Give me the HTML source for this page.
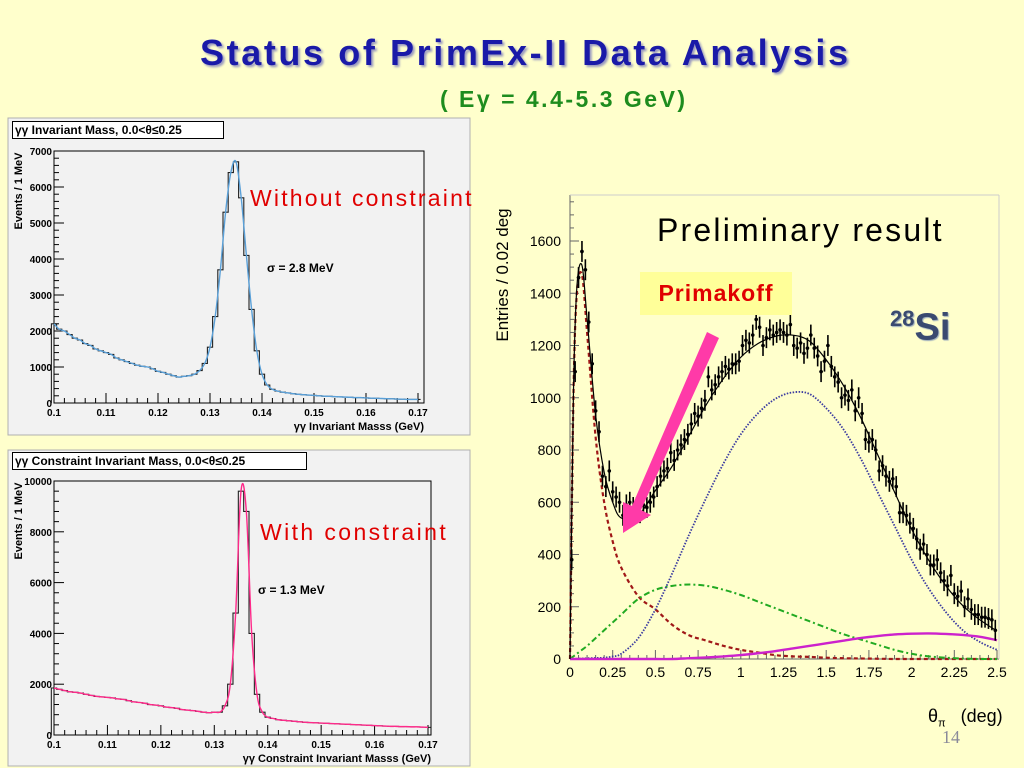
<!DOCTYPE html>
<html><head><meta charset="utf-8">
<style>
html,body{margin:0;padding:0;}
body{width:1024px;height:768px;background:#FFFFCC;position:relative;overflow:hidden;font-family:"Liberation Sans",sans-serif;}
.abs{position:absolute;white-space:nowrap;}
</style></head>
<body>
<div class="abs" style="left:200px;top:32px;font-size:36px;letter-spacing:2.6px;font-weight:bold;color:#1a1aa8;text-shadow:2px 2px 2px #9a9ac0;">Status of PrimEx-II Data Analysis</div>
<div class="abs" style="left:440px;top:86px;font-size:23px;letter-spacing:2.5px;font-weight:bold;color:#1e8c1e;">( E&gamma; = 4.4-5.3 GeV)</div>
<div class="abs" style="left:942px;top:727px;font-size:18px;color:#8a8a9a;font-family:'Liberation Serif',serif;">14</div>

<svg id="svg" width="1024" height="768" style="position:absolute;left:0;top:0">
  <rect x="8" y="118" width="462" height="317" fill="#F2F2F2" stroke="#b0b0b0"/>
  <rect x="8" y="450" width="462" height="316" fill="#F2F2F2" stroke="#b0b0b0"/>
  <g id="top"></g><g id="bot"></g><g id="right"></g>
</svg>

<div class="abs" style="left:12px;top:121px;width:208px;height:16px;border:1px solid #000;background:#fff;font-size:12px;font-weight:bold;line-height:16px;padding-left:2px;">&gamma;&gamma; Invariant Mass, 0.0&lt;&theta;&le;0.25</div>
<div class="abs" style="left:12px;top:452px;width:291px;height:16px;border:1px solid #000;background:#fff;font-size:12px;font-weight:bold;line-height:16px;padding-left:2px;">&gamma;&gamma; Constraint Invariant Mass, 0.0&lt;&theta;&le;0.25</div>
<div class="abs" style="left:250px;top:185px;font-size:23px;letter-spacing:2.2px;color:#e00000;">Without constraint</div>
<div class="abs" style="left:267px;top:261px;font-size:12px;font-weight:bold;">&sigma; = 2.8 MeV</div>
<div class="abs" style="left:260px;top:519px;font-size:23px;letter-spacing:2.4px;color:#e00000;">With constraint</div>
<div class="abs" style="left:258px;top:583px;font-size:12px;font-weight:bold;">&sigma; = 1.3 MeV</div>

<div class="abs" style="left:657px;top:212px;font-size:32px;letter-spacing:2.2px;color:#000;">Preliminary result</div>
<div class="abs" style="left:640px;top:272px;width:152px;height:43px;background:#FFFF99;color:#e00000;font-size:23px;letter-spacing:1px;font-weight:bold;text-align:center;line-height:43px;">Primakoff</div>
<div class="abs" style="left:890px;top:306px;font-size:38px;font-weight:bold;color:#3a4a70;text-shadow:1px 1px 1px #9ab;"><sup style="font-size:22px;">28</sup>Si</div>
<div class="abs" style="left:413px;top:265px;width:180px;text-align:center;font-size:17px;transform:rotate(-90deg);">Entries / 0.02 deg</div>
<div class="abs" style="left:928px;top:706px;font-size:18px;">&theta;<sub style="font-size:11px;">&pi;</sub>&nbsp;&nbsp; (deg)</div>

<script>
// ---- top histogram data (bin centers 0.100..0.170 step 0.001)
const topCounts = [2200,2050,2000,1900,1800,1750,1650,1600,1500,1450,1400,1350,1250,1200,1150,1100,1050,1020,1000,950,880,850,800,760,720,740,760,
 800,900,1100,1550,2400,3700,5300,6400,6700,5700,4100,2600,1450,800,
 500,380,330,300,280,260,240,230,220,210,200,190,185,180,170,165,160,150,150,140,135,130,125,120,115,110,105,100,100,100];
const topYTicks = [0,1000,2000,3000,4000,5000,6000,7000];
// ---- bottom histogram data
const botCounts = [1850,1800,1750,1700,1680,1650,1600,1560,1520,1500,1480,1460,1420,1400,1350,1300,1280,1250,1200,1180,1150,1100,1080,1050,1000,980,960,930,900,880,
 900,900,1150,2000,4800,9600,8800,4000,1600,900,
 700,650,600,580,560,540,520,500,490,480,470,460,450,440,430,420,410,400,390,380,370,360,350,340,340,330,330,320,320,310,300];
const botYTicks = [0,2000,4000,6000,8000,10000];
const massTicks = [0.1,0.11,0.12,0.13,0.14,0.15,0.16,0.17];
const massTickLabels = ["0.1","0.11","0.12","0.13","0.14","0.15","0.16","0.17"];

// ---- right chart data
const dataY = [380,1100,1460,1560,1490,1290,1130,950,870,700,660,720,640,620,600,550,590,600,580,580,560,590,580,600,620,660,700,720,730,790,760,800,820,840,860,900,940,930,960,990,1080,1030,1050,1080,1100,1120,1110,1130,1130,1140,1200,1220,1210,1240,1300,1270,1200,1230,1260,1240,1250,1260,1250,1240,1280,1200,1190,1210,1170,1190,1240,1190,1160,1100,1140,1200,1120,1080,1060,1000,1010,990,1030,950,1000,940,840,830,840,800,720,740,700,680,690,660,560,560,550,520,500,460,420,440,400,360,360,380,330,300,280,320,250,240,260,200,230,190,170,170,160,160,155,150,110];
const compX = [0,0.02,0.04,0.07,0.1,0.15,0.2,0.25,0.3,0.4,0.5,0.6,0.7,0.8,0.9,1.0,1.1,1.2,1.3,1.4,1.5,1.6,1.7,1.8,1.9,2.0,2.1,2.2,2.3,2.4,2.5];
const primakoff = [0,1000,1400,1470,1250,850,600,450,350,240,190,130,90,70,50,35,25,15,10,8,5,3,2,1,0,0,0,0,0,0,0];
const coherent = [0,10,20,35,50,80,110,140,170,230,265,280,285,280,265,245,220,195,170,145,120,95,75,55,35,20,10,5,2,0,0];
const incoherent = [0,0,1,2,3,4,5,10,20,80,190,330,480,620,750,860,940,995,1020,1015,960,880,770,640,510,380,270,180,110,65,35];
const interference = [0,0,0,0,0,0,0,0,0,0,0,0,3,6,10,15,22,30,40,50,60,70,80,88,94,97,98,96,92,85,72];
const rightYTicks = [0,200,400,600,800,1000,1200,1400,1600];
const rightXTicks = [0,0.25,0.5,0.75,1,1.25,1.5,1.75,2,2.25,2.5];
const rightXLabels = ["0","0.25","0.5","0.75","1","1.25","1.5","1.75","2","2.25","2.5"];

const NS="http://www.w3.org/2000/svg";
function mk(parent,tag,attrs){const e=document.createElementNS(NS,tag);for(const k in attrs)e.setAttribute(k,attrs[k]);parent.appendChild(e);return e;}
function smooth(pts){let d="M"+pts[0][0]+","+pts[0][1];for(let i=0;i<pts.length-1;i++){const p0=pts[Math.max(0,i-1)],p1=pts[i],p2=pts[i+1],p3=pts[Math.min(pts.length-1,i+2)];
 const c1=[p1[0]+(p2[0]-p0[0])/6,p1[1]+(p2[1]-p0[1])/6],c2=[p2[0]-(p3[0]-p1[0])/6,p2[1]-(p3[1]-p1[1])/6];
 d+=" C"+c1[0]+","+c1[1]+" "+c2[0]+","+c2[1]+" "+p2[0]+","+p2[1];}return d;}

function histPanel(gid,counts,yTicks,ymax,L,R,T,B,x17,fitColor,fitDash,xTitle,prefix){
  const g=document.getElementById(gid);
  const X=v=>L+(v-0.1)/(0.07)*(x17-L);
  const Y=v=>B-v/ymax*(B-T);
  const fr=mk(g,'rect',{x:L,y:T,width:R-L,height:B-T,fill:'none',stroke:'#000','stroke-width':1});
  
  
  const step=yTicks[1]-yTicks[0];
  for(let v=0;v<=ymax+1;v+=step/5){const y=Y(v);const major=Math.abs(v/step-Math.round(v/step))<1e-6;
    mk(g,'line',{x1:L,x2:L+(major?10:5),y1:y,y2:y,stroke:'#000'});}
  yTicks.forEach(v=>{const t=mk(g,'text',{x:L-2,y:Y(v)+4,'text-anchor':'end','font-size':10,'font-weight':'bold','font-family':'Liberation Sans'});t.textContent=v;
    
    });
  for(let v=0.1;v<=0.1705;v+=0.002){const major=Math.abs((v-0.1)/0.01-Math.round((v-0.1)/0.01))<1e-6;const x=X(v);
    mk(g,'line',{x1:x,x2:x,y1:B,y2:B-(major?10:5),stroke:'#000'});}
  massTicks.forEach((v,i)=>{const t=mk(g,'text',{x:X(v),y:B+13,'text-anchor':'middle','font-size':10,'font-weight':'bold','font-family':'Liberation Sans'});t.textContent=massTickLabels[i];
    
    });
  let d="";counts.forEach((c,i)=>{const x0=X(0.0995+i*0.001),x1=X(0.1005+i*0.001);const y=Y(c);d+=(i?"L":"M"+x0+","+B+" L")+x0+","+y+" L"+x1+","+y+" ";});
  const h=mk(g,'path',{d:d,fill:'none',stroke:'#222','stroke-width':1.1});
  
  
  const pts=counts.map((c,i)=>[X(0.1+i*0.001),Y(c)]);
  const f=mk(g,'path',{d:smooth(pts),fill:'none',stroke:fitColor,'stroke-width':1.4,'stroke-dasharray':fitDash});
  
  
  const xt=mk(g,'text',{x:R,y:B+27,'text-anchor':'end','font-size':11,'font-weight':'bold','font-family':'Liberation Sans'});xt.textContent=xTitle;
  
  
  const yt=mk(g,'text',{x:0,y:0,'text-anchor':'middle','font-size':11,'font-weight':'bold','font-family':'Liberation Sans',transform:`translate(22,${T+40}) rotate(-90)`});yt.textContent="Events / 1 MeV";
  
  
}
histPanel('top',topCounts,topYTicks,7000,54,424,151,403,418,'#5aa0d8','none',"\u03b3\u03b3 Invariant Masss (GeV)",'top');
histPanel('bot',botCounts,botYTicks,10000,54,431,481,735,428,'#ff2a8a','none',"\u03b3\u03b3 Constraint Invariant Masss (GeV)",'bottom');

(function(){
  const g=document.getElementById('right');
  const L=570,R=999,T=195,B=659;
  const X=v=>L+v/2.5*(997-L);
  const Y=v=>B-v/1600*(B-241);
  mk(g,'line',{x1:L,x2:L,y1:T,y2:B,stroke:'#666'});
  mk(g,'line',{x1:L,x2:R,y1:B,y2:B,stroke:'#666'});
  mk(g,'line',{x1:L,x2:R,y1:T,y2:T,stroke:'#ccc'});
  mk(g,'line',{x1:R,x2:R,y1:T,y2:B,stroke:'#ccc'});
  for(let v=0;v<=1750;v+=50){const y=Y(v);mk(g,'line',{x1:L,x2:L+(v%200==0?9:4),y1:y,y2:y,stroke:'#666'});}
  for(let v=0;v<=2.5001;v+=0.05){const x=X(v);const m=Math.abs(v/0.25-Math.round(v/0.25))<1e-6;mk(g,'line',{x1:x,x2:x,y1:B,y2:B-(m?9:4),stroke:'#666'});}
  rightYTicks.forEach(v=>{const t=mk(g,'text',{x:L-9,y:Y(v)+5,'text-anchor':'end','font-size':14,'font-family':'Liberation Sans'});t.textContent=v;
    
    });
  rightXTicks.forEach((v,i)=>{const t=mk(g,'text',{x:X(v),y:B+18,'text-anchor':'middle','font-size':14,'font-family':'Liberation Sans'});t.textContent=rightXLabels[i];
    
    });
  function curve(arr,color,dash,w,name){const p=mk(g,'path',{d:smooth(compX.map((x,i)=>[X(x),Y(arr[i])])),fill:'none',stroke:color,'stroke-width':w,'stroke-dasharray':dash});
    
    }
  curve(primakoff,'#a01818','4,3',2.2,'primakoff-curve');
  curve(coherent,'#22aa22','6,3,2,3',2,'coherent-curve');
  curve(incoherent,'#3a3aa0','1.5,1.5',1.8,'incoherent-curve');
  curve(interference,'#cc22cc','none',2.4,'interference-curve');
  const total=compX.map((x,i)=>primakoff[i]+coherent[i]+incoherent[i]+interference[i]);
  curve(total,'#000','none',1.2,'total-fit-curve');
  dataY.forEach((v,i)=>{const x=X(0.01+0.02*i),y=Y(v);const e=Y(0)-Y(40);
    const grp=mk(g,'g',{});
    
    
    mk(grp,'line',{x1:x,x2:x,y1:y-e,y2:y+e,stroke:'#000','stroke-width':1.6});
    mk(grp,'line',{x1:x-1.7,x2:x+1.7,y1:y,y2:y,stroke:'#000','stroke-width':1});
    mk(grp,'circle',{cx:x,cy:y,r:1.8,fill:'#000'});});
  const a=mk(g,'polygon',{points:"707,332 719,338 641,510 651,515 623,533 623,502 632,506",fill:'#ff3aa8'});
  
  
})();
</script>
</body></html>
